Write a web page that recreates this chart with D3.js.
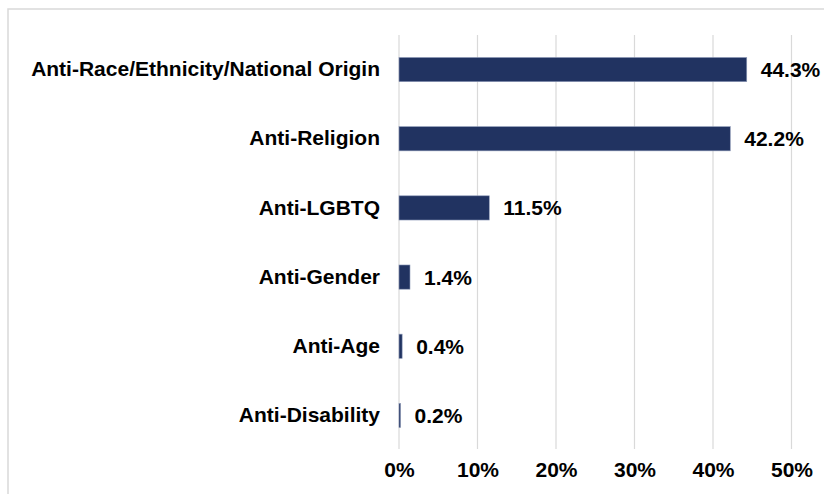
<!DOCTYPE html>
<html>
<head>
<meta charset="utf-8">
<script src="https://cdn.jsdelivr.net/npm/d3@7"></script>
<style>
  body { margin: 0; background: #fff; }
  svg { display: block; font-family: "Liberation Sans", Arial, sans-serif; }
</style>
</head>
<body>
<svg width="824" height="494"></svg>
<script>
// Hate crime bias motivation shares, horizontal bar chart

const width = 824;
const height = 494;

const categories = [
  "Anti-Race/Ethnicity/National Origin",
  "Anti-Religion",
  "Anti-LGBTQ",
  "Anti-Gender",
  "Anti-Age",
  "Anti-Disability",
];
const values = [44.3, 42.2, 11.5, 1.4, 0.4, 0.2];
const ticks = [0, 10, 20, 30, 40, 50];

const margin = { top: 35, right: 33, bottom: 45, left: 399 };
const fontSize = 21;

const svg = d3.select("svg");

// outer frame
svg
  .append("rect")
  .attr("x", 8)
  .attr("y", 9)
  .attr("width", width)
  .attr("height", height)
  .attr("fill", "none")
  .attr("stroke", "#d9d9d9")
  .attr("stroke-width", 1.5);

const x = d3
  .scaleLinear()
  .domain([0, 50])
  .range([margin.left, margin.left + 392.5]);

const y = d3
  .scaleBand()
  .domain(categories)
  .range([margin.top, height - margin.bottom + 1])
  .paddingInner(0.65)
  .paddingOuter(0.325);

// gridlines
svg
  .append("g")
  .selectAll("line")
  .data(ticks)
  .enter()
  .append("line")
  .attr("x1", (d) => x(d))
  .attr("x2", (d) => x(d))
  .attr("y1", margin.top)
  .attr("y2", height - margin.bottom)
  .attr("stroke", "#d9d9d9")
  .attr("stroke-width", 1.2);

// bars
svg
  .append("g")
  .selectAll("rect")
  .data(values)
  .enter()
  .append("rect")
  .attr("x", x(0))
  .attr("y", (d, i) => y(categories[i]))
  .attr("width", (d) => x(d) - x(0))
  .attr("height", y.bandwidth())
  .attr("fill", "#213361")
  .attr("stroke", "#8e9ab8")
  .attr("stroke-width", 0.6);

// value labels
svg
  .append("g")
  .selectAll("text")
  .data(values)
  .enter()
  .append("text")
  .attr("x", (d) => x(d) + 14)
  .attr("y", (d, i) => y(categories[i]) + y.bandwidth() / 2)
  .attr("dy", "0.36em")
  .attr("font-size", fontSize)
  .attr("font-weight", "bold")
  .attr("fill", "#000")
  .text((d) => d.toFixed(1) + "%");

// category labels
const yAxis = d3.axisLeft(y).tickSize(0).tickPadding(19);
svg
  .append("g")
  .attr("transform", "translate(" + margin.left + ",0)")
  .call(yAxis)
  .call((g) => g.select(".domain").remove())
  .selectAll("text")
  .attr("font-size", fontSize)
  .attr("font-weight", "bold")
  .attr("font-family", "Liberation Sans, Arial, sans-serif")
  .attr("fill", "#000");

// x axis tick labels
const xAxis = d3
  .axisBottom(x)
  .tickValues(ticks)
  .tickSize(0)
  .tickPadding(13)
  .tickFormat((d) => d + "%");
svg
  .append("g")
  .attr("transform", "translate(0," + (height - margin.bottom) + ")")
  .call(xAxis)
  .call((g) => g.select(".domain").remove())
  .selectAll("text")
  .attr("font-size", fontSize)
  .attr("font-weight", "bold")
  .attr("font-family", "Liberation Sans, Arial, sans-serif")
  .attr("fill", "#000");
</script>
</body>
</html>
